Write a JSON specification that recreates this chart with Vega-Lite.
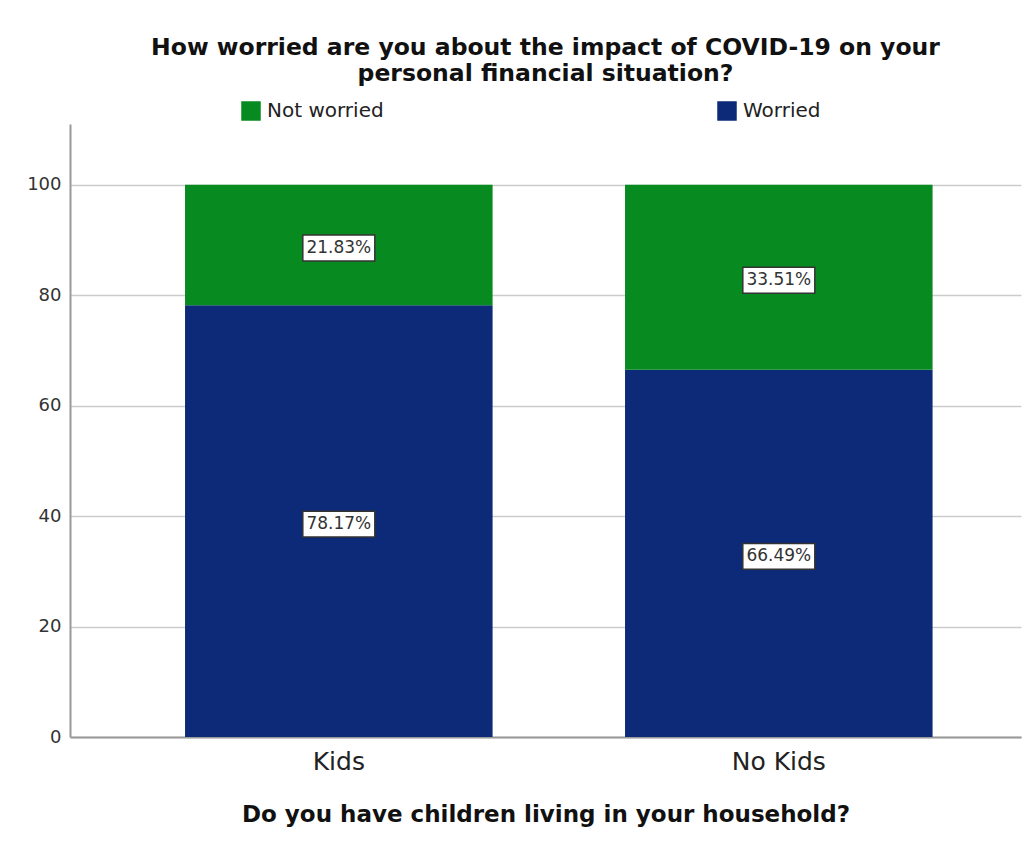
{
  "$schema": "https://vega.github.io/schema/vega-lite/v6.json",
  "width": 951,
  "height": 613,
  "autosize": {"type": "none"},
  "padding": {"left": 70, "top": 124, "right": 11, "bottom": 118},
  "background": "white",
  "config": {"view": {"stroke": null}, "font": "DejaVu Sans"},
  "title": {
    "text": ["How worried are you about the impact of COVID-19 on your", "personal financial situation?"],
    "fontSize": 23.5,
    "fontWeight": "bold",
    "lineHeight": 26,
    "anchor": "middle",
    "frame": "group",
    "offset": 16,
    "color": "#111111",
    "font": "DejaVu Sans"
  },
  "data": {
    "values": [
      {"group": "Kids", "status": "Worried", "value": 78.17, "label": "78.17%"},
      {"group": "Kids", "status": "Not worried", "value": 21.83, "label": "21.83%"},
      {"group": "No Kids", "status": "Worried", "value": 66.49, "label": "66.49%"},
      {"group": "No Kids", "status": "Not worried", "value": 33.51, "label": "33.51%"}
    ]
  },
  "transform": [
    {"stack": "value", "groupby": ["group"], "sort": [{"field": "status", "order": "descending"}], "as": ["v0", "v1"]},
    {"calculate": "(datum.v0 + datum.v1) / 2", "as": "mid"}
  ],
  "encoding": {
    "x": {
      "field": "group",
      "type": "nominal",
      "scale": {"paddingInner": 0.301, "paddingOuter": 0.2312, "align": 0.5654},
      "axis": {
        "title": "Do you have children living in your household?",
        "titleFontSize": 23,
        "titleFontWeight": "bold",
        "titleColor": "#111111",
        "titlePadding": 29,
        "labelFontSize": 25,
        "labelAngle": 0,
        "labelColor": "#222222",
        "labelPadding": 12,
        "ticks": false,
        "domainColor": "#999999",
        "domainWidth": 2
      }
    }
  },
  "layer": [
    {
      "mark": {"type": "bar"},
      "encoding": {
        "y": {
          "field": "v0",
          "type": "quantitative",
          "scale": {"domain": [0, 111], "nice": false},
          "axis": {
            "title": null,
            "values": [0, 20, 40, 60, 80, 100],
            "labelFontSize": 18,
            "labelColor": "#333333",
            "labelPadding": 9,
            "ticks": false,
            "domainColor": "#999999",
            "domainWidth": 2,
            "grid": true,
            "gridColor": "#cccccc",
            "gridWidth": 1.5
          }
        },
        "y2": {"field": "v1"},
        "color": {
          "field": "status",
          "type": "nominal",
          "scale": {"domain": ["Not worried", "Worried"], "range": ["#078a1f", "#0d2a78"]},
          "legend": {
            "title": null,
            "orient": "none",
            "legendX": 171,
            "legendY": -23,
            "direction": "horizontal",
            "columns": 2,
            "columnPadding": 333,
            "symbolType": "square",
            "symbolSize": 380,
            "symbolStrokeWidth": 0,
            "symbolOpacity": 1,
            "labelFontSize": 20,
            "labelColor": "#222222",
            "labelOffset": 6
          }
        }
      }
    },
    {
      "mark": {"type": "point", "shape": "M-1,-0.36H1V0.36H-1Z", "filled": true, "fill": "white", "stroke": "#333333", "strokeWidth": 1.5, "size": 5184, "opacity": 1, "yOffset": 3},
      "encoding": {
        "y": {"field": "mid", "type": "quantitative"}
      }
    },
    {
      "mark": {"type": "text", "fontSize": 17, "color": "#333333", "yOffset": 3},
      "encoding": {
        "y": {"field": "mid", "type": "quantitative"},
        "text": {"field": "label", "type": "nominal"}
      }
    }
  ]
}
